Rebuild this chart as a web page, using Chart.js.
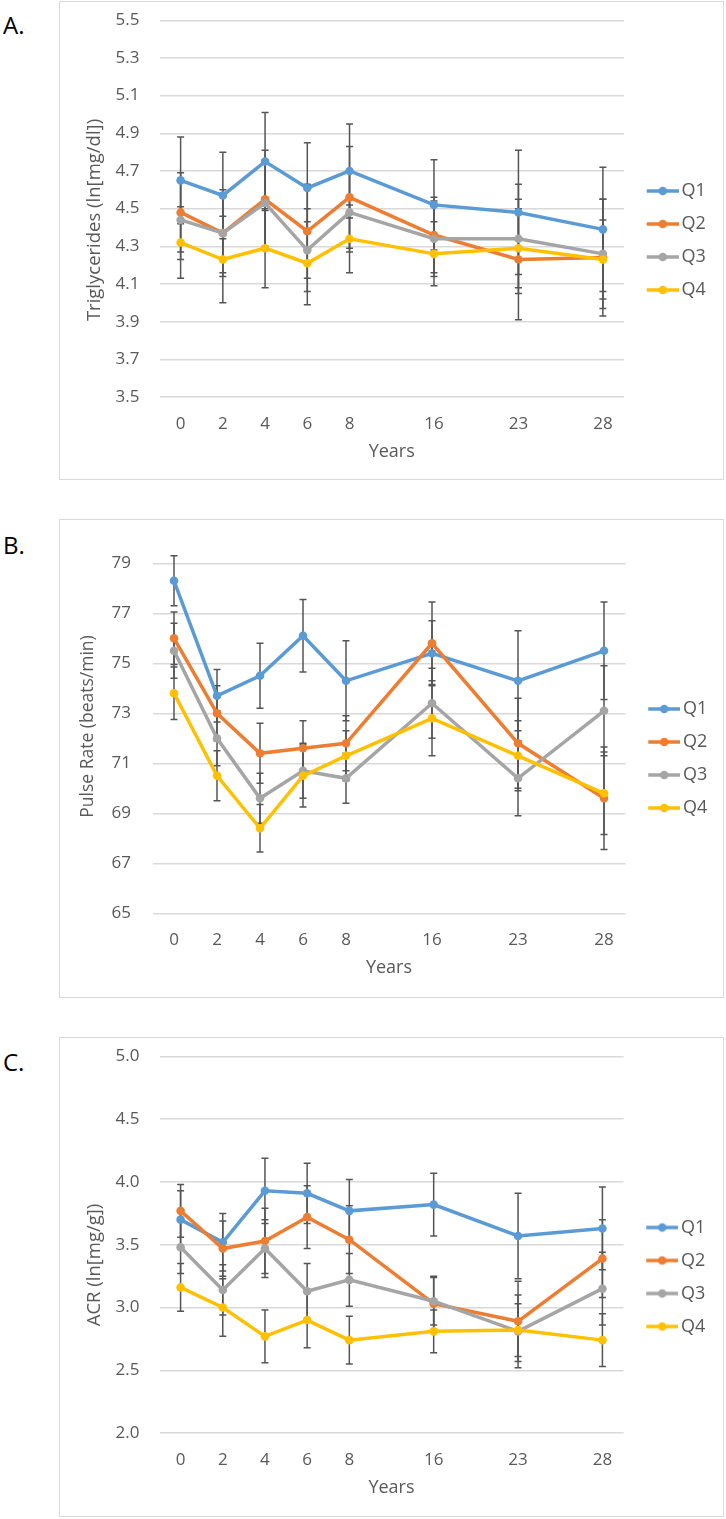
<!DOCTYPE html>
<html>
<head>
<meta charset="utf-8">
<script src="https://cdn.jsdelivr.net/npm/chart.js@4.4.1/dist/chart.umd.min.js"></script>
<style>
  body { margin: 0; background: #fff; width: 726px; height: 1519px; position: relative; overflow: hidden; }
  .box { position: absolute; left: 59px; width: 665px; border: 1px solid #d9d9d9; box-sizing: border-box; }
  .panel-label { position: absolute; left: 3px; font: 24px 'Open Sans', sans-serif; color: #000; line-height: 30px; }
  canvas { position: absolute; left: 0; }
</style>
</head>
<body>
<div class="panel-label" style="top:10px">A.</div>
<div class="panel-label" style="top:530px">B.</div>
<div class="panel-label" style="top:1047px">C.</div>

<div class="box" style="top:1px;height:479px"></div>
<div class="box" style="top:519px;height:479px"></div>
<div class="box" style="top:1037px;height:480px"></div>

<canvas id="chartA" width="726" height="479" style="top:1px"></canvas>
<canvas id="chartB" width="726" height="479" style="top:519px"></canvas>
<canvas id="chartC" width="726" height="480" style="top:1037px"></canvas>

<script>
// years of follow-up
const years = ['0', '2', '4', '6', '8', '16', '23', '28'];
// Excel axis keeps uneven spacing: empty slots between 8, 16, 23 and 28
const axisSlots = ['0', '2', '4', '6', '8', '', '16', '', '23', '', '28'];
const seriesNames = ['Q1', 'Q2', 'Q3', 'Q4'];
const seriesColors = ['#5B9BD5', '#ED7D31', '#A5A5A5', '#FFC000'];

// A. triglycerides
const tgQ1 = [4.65, 4.57, 4.75, 4.61, 4.70, 4.52, 4.48, 4.39];
const tgQ2 = [4.48, 4.37, 4.55, 4.38, 4.56, 4.36, 4.23, 4.24];
const tgQ3 = [4.44, 4.37, 4.53, 4.28, 4.48, 4.34, 4.34, 4.26];
const tgQ4 = [4.32, 4.23, 4.29, 4.21, 4.34, 4.26, 4.29, 4.23];
const tgErrQ1 = [0.23, 0.23, 0.26, 0.24, 0.25, 0.24, 0.33, 0.33];
const tgErrQ2 = [0.21, 0.21, 0.26, 0.25, 0.27, 0.20, 0.32, 0.31];
const tgErrQ3 = [0.21, 0.23, 0.23, 0.22, 0.21, 0.20, 0.29, 0.29];
const tgErrQ4 = [0.19, 0.23, 0.21, 0.22, 0.18, 0.17, 0.21, 0.21];
const tgTicks = [3.5, 5.5, 0.2];

// B. pulse rate
const prQ1 = [78.3, 73.7, 74.5, 76.1, 74.3, 75.4, 74.3, 75.5];
const prQ2 = [76.0, 73.0, 71.4, 71.6, 71.8, 75.8, 71.8, 69.6];
const prQ3 = [75.5, 72.0, 69.6, 70.7, 70.4, 73.4, 70.4, 73.1];
const prQ4 = [73.8, 70.5, 68.4, 70.5, 71.3, 72.8, 71.3, 69.8];
const prErrQ1 = [1.0, 1.05, 1.3, 1.45, 1.6, 1.3, 2.0, 1.95];
const prErrQ2 = [1.05, 1.1, 1.2, 1.1, 1.1, 1.65, 1.8, 2.05];
const prErrQ3 = [1.1, 1.1, 1.0, 1.1, 1.0, 1.4, 1.5, 1.8];
const prErrQ4 = [1.05, 1.0, 0.95, 1.25, 1.0, 1.5, 1.4, 1.65];
const prTicks = [65, 79, 2];

// C. albumin/creatinine ratio
const acrQ1 = [3.70, 3.52, 3.93, 3.91, 3.77, 3.82, 3.57, 3.63];
const acrQ2 = [3.77, 3.47, 3.53, 3.72, 3.54, 3.03, 2.89, 3.39];
const acrQ3 = [3.48, 3.14, 3.47, 3.13, 3.22, 3.05, 2.81, 3.15];
const acrQ4 = [3.16, 3.00, 2.77, 2.90, 2.74, 2.81, 2.82, 2.74];
const acrErrQ1 = [0.23, 0.23, 0.26, 0.24, 0.25, 0.25, 0.34, 0.33];
const acrErrQ2 = [0.21, 0.22, 0.26, 0.25, 0.27, 0.22, 0.32, 0.31];
const acrErrQ3 = [0.21, 0.20, 0.23, 0.22, 0.21, 0.19, 0.29, 0.29];
const acrErrQ4 = [0.19, 0.23, 0.21, 0.22, 0.19, 0.17, 0.21, 0.21];
const acrTicks = [2.0, 5.0, 0.5];

const TEXT = '#595959';
const FONT = "'Open Sans', sans-serif";
const X_AXIS_H = 65.8;
Chart.defaults.font.family = FONT;

// put the 8 values on the 11 axis slots
function spread(vals) {
    return axisSlots.map(s => {
        const i = years.indexOf(s);
        return i < 0 ? null : vals[i];
    });
}

// excel-like legend key: line with a dot
function legendIcon(color) {
    const c = document.createElement('canvas');
    c.width = 46; c.height = 12;
    const g = c.getContext('2d');
    g.strokeStyle = color; g.lineWidth = 3.5;
    g.beginPath(); g.moveTo(14, 6); g.lineTo(46, 6); g.stroke();
    g.fillStyle = color;
    g.beginPath(); g.arc(30, 6, 4.3, 0, Math.PI * 2); g.fill();
    return c;
}

const errorBars = {
    id: 'errorBars',
    beforeDatasetsDraw(chart) {
        const ctx = chart.ctx;
        const y = chart.scales.y;
        ctx.save();
        ctx.strokeStyle = '#555555';
        ctx.lineWidth = 1.5;
        chart.data.datasets.forEach((ds, i) => {
            const meta = chart.getDatasetMeta(i);
            meta.data.forEach((pt, j) => {
                const v = ds.data[j], e = ds.errors[j];
                if (v == null || e == null) return;
                const top = y.getPixelForValue(v + e);
                const bot = y.getPixelForValue(v - e);
                ctx.beginPath();
                ctx.moveTo(pt.x, top); ctx.lineTo(pt.x, bot);
                ctx.moveTo(pt.x - 3.5, top); ctx.lineTo(pt.x + 3.5, top);
                ctx.moveTo(pt.x - 3.5, bot); ctx.lineTo(pt.x + 3.5, bot);
                ctx.stroke();
            });
        });
        ctx.restore();
    }
};

// fixed legend width, legend centred on the whole chart box like excel
const legendFix = {
    id: 'legendFix',
    beforeLayout(chart, args, opts) {
        const lg = chart.legend;
        if (lg && !lg._fixed) {
            const fit = lg.fit;
            lg.fit = function () { fit.call(this); this.width = opts.width; };
            lg._fixed = true;
        }
    },
    afterLayout(chart) {
        const lg = chart.legend;
        lg.top = 0; lg.bottom = chart.height; lg.height = chart.height;
    }
};

// vertical axis title, placed where excel put it (not centred on the plot)
const sideTitle = {
    id: 'sideTitle',
    afterDraw(chart, args, opts) {
        const ctx = chart.ctx;
        ctx.save();
        ctx.translate(opts.x, opts.y);
        ctx.rotate(-Math.PI / 2);
        ctx.font = opts.size + 'px ' + FONT;
        ctx.fillStyle = TEXT;
        ctx.textAlign = 'center';
        ctx.textBaseline = 'middle';
        ctx.fillText(opts.text, 0, 0);
        ctx.restore();
    }
};

function makeChart(id, series, errors, ticks, fmt, yTitle, box) {
    const datasets = series.map((vals, i) => ({
        label: seriesNames[i],
        data: spread(vals),
        errors: spread(errors[i]),
        borderColor: seriesColors[i],
        backgroundColor: seriesColors[i],
        borderWidth: 3.5,
        pointRadius: 4.3,
        pointBorderWidth: 0,
        tension: 0,
        spanGaps: true,
        order: series.length - i
    }));
    const canvas = document.getElementById(id);
    const H = canvas.height;
    return new Chart(canvas, {
        type: 'line',
        data: { labels: axisSlots, datasets: datasets },
        plugins: [errorBars, legendFix, sideTitle],
        options: {
            responsive: false,
            animation: false,
            layout: { autoPadding: false, padding: { left: 70, top: box.top, right: 0, bottom: H - box.bottom - X_AXIS_H } },
            plugins: {
                tooltip: { enabled: false },
                legendFix: { width: 726 - box.right },
                sideTitle: { text: yTitle, x: box.titleX, y: box.titleY, size: box.titleSize },
                legend: {
                    position: 'right',
                    labels: {
                        usePointStyle: true,
                        pointStyleWidth: 33.5,
                        padding: 15,
                        color: TEXT,
                        font: { size: 18 },
                        generateLabels: chart => chart.data.datasets.map((ds, i) => ({
                            text: ds.label,
                            pointStyle: legendIcon(ds.borderColor),
                            fillStyle: ds.borderColor,
                            strokeStyle: ds.borderColor,
                            lineWidth: 0,
                            fontColor: TEXT,
                            hidden: false,
                            datasetIndex: i
                        }))
                    }
                }
            },
            scales: {
                x: {
                    type: 'category',
                    offset: true,
                    grid: { display: false },
                    border: { display: false },
                    ticks: { color: TEXT, font: { size: 17 }, padding: 9, autoSkip: false, maxRotation: 0 },
                    title: { display: true, text: 'Years', color: TEXT, font: { size: 18 }, padding: { top: 0, bottom: 0 } },
                    afterFit: s => { s.height = X_AXIS_H; s.paddingLeft = 0; s.paddingRight = 0; }
                },
                y: {
                    min: ticks[0],
                    max: ticks[1],
                    grid: { color: '#d9d9d9', lineWidth: 1.5, drawTicks: false },
                    border: { display: false },
                    ticks: { stepSize: ticks[2], color: TEXT, font: { size: 17 }, padding: box.tickPad, callback: fmt },
                    afterFit: s => { s.width = box.left - 70; s.paddingTop = 0; s.paddingBottom = 0; }
                }
            }
        }
    });
}

const oneDecimal = v => Number(v).toFixed(1);

makeChart('chartA', [tgQ1, tgQ2, tgQ3, tgQ4], [tgErrQ1, tgErrQ2, tgErrQ3, tgErrQ4], tgTicks, oneDecimal,
    'Triglycerides (ln[mg/dl])',
    { top: 19.3, bottom: 396, left: 159.5, right: 624, tickPad: 20, titleX: 95, titleY: 219, titleSize: 18.5 });
makeChart('chartB', [prQ1, prQ2, prQ3, prQ4], [prErrQ1, prErrQ2, prErrQ3, prErrQ4], prTicks, v => v,
    'Pulse Rate (beats/min)',
    { top: 44.3, bottom: 394.3, left: 152.5, right: 625.5, tickPad: 21.5, titleX: 88, titleY: 207.5, titleSize: 17.5 });
makeChart('chartC', [acrQ1, acrQ2, acrQ3, acrQ4], [acrErrQ1, acrErrQ2, acrErrQ3, acrErrQ4], acrTicks, oneDecimal,
    'ACR (ln[mg/g])',
    { top: 19.5, bottom: 396, left: 159.5, right: 623.5, tickPad: 20, titleX: 95, titleY: 228, titleSize: 18.5 });
</script>
</body>
</html>
